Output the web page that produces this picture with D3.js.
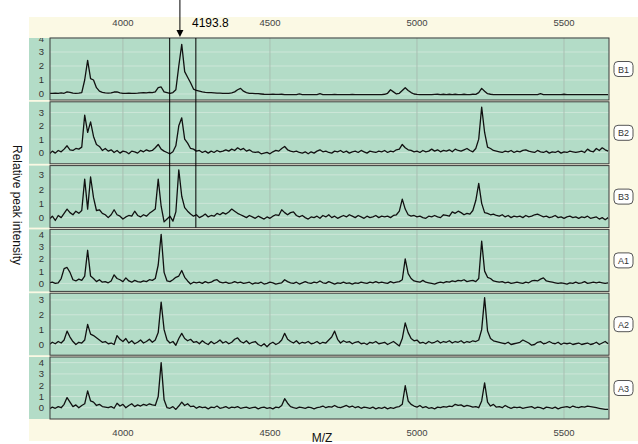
<!DOCTYPE html>
<html>
<head>
<meta charset="utf-8">
<style>
  body { margin: 0; background: #fff; }
  svg text { font-family: "Liberation Sans", Arial, sans-serif; }
</style>
</head>
<body>
<svg width="638" height="444"></svg>
<script src="https://cdn.jsdelivr.net/npm/d3@7/dist/d3.min.js"></script>
<script>
// m/z sampling grid: 3750 .. 5650, every 10
var mz = d3.range(3750, 5651, 10);

var xTicks = [4000, 4500, 5000, 5500];
var panelNames = ["B1", "B2", "B3", "A1", "A2", "A3"];
var marker = 4193.8;
var markerBand = [4159, 4248];

// relative peak intensity, one value per grid point
var b1 = [
  0.05,0.05,0.06,0.05,0.08,0.05,0.15,0.12,0.06,0.05,
  0.06,0.1,1.0,2.4,1.1,1.0,0.45,0.2,0.12,0.08,
  0.06,0.08,0.14,0.15,0.08,0.05,0.05,0.06,0.05,0.05,
  0.06,0.08,0.1,0.08,0.12,0.1,0.15,0.45,0.5,0.15,
  0.1,0.05,0.1,0.3,2.0,3.55,1.6,1.2,0.8,0.35,
  0.25,0.2,0.15,0.12,0.1,0.1,0.08,0.06,0.06,0.05,
  0.05,0.05,0.08,0.15,0.3,0.4,0.2,0.1,0.05,0.04,
  0.03,0.02,0.0,-0.02,-0.03,-0.03,-0.02,-0.03,-0.03,-0.02,
  -0.05,-0.05,-0.04,-0.05,-0.05,0.0,-0.05,-0.05,-0.05,-0.05,
  -0.05,-0.05,0.02,-0.05,-0.05,-0.05,-0.05,-0.03,-0.05,-0.05,
  -0.05,-0.05,-0.05,-0.03,-0.05,-0.04,-0.05,-0.05,-0.05,-0.05,
  -0.05,-0.05,-0.04,-0.05,-0.02,0.05,0.3,0.15,0.0,0.05,
  0.25,0.45,0.25,0.1,0.0,-0.03,-0.05,-0.05,-0.05,-0.05,
  -0.05,-0.03,-0.02,-0.05,-0.02,-0.04,-0.02,-0.05,-0.02,-0.04,
  -0.04,-0.02,-0.05,-0.04,-0.02,-0.03,0.1,0.4,0.2,0.02,
  -0.02,-0.04,-0.05,-0.05,-0.05,-0.05,-0.05,-0.05,-0.05,-0.05,
  -0.05,-0.05,-0.05,-0.05,-0.05,-0.05,-0.05,0.02,-0.05,-0.05,
  -0.05,-0.05,-0.05,-0.05,-0.05,-0.02,-0.05,-0.05,-0.05,-0.05,
  -0.05,-0.05,-0.05,-0.05,-0.05,-0.05,-0.05,-0.05,-0.05,-0.05,
  -0.05
];
var b2 = [
  -0.1,0.1,-0.05,0.15,0.05,0.25,0.5,0.2,0.15,0.3,
  0.25,0.4,2.8,1.5,2.3,1.2,0.6,0.45,0.15,0.3,
  0.1,0.2,0.0,0.15,-0.05,0.1,0.05,-0.1,0.1,0.05,
  -0.05,0.15,0.05,0.2,0.1,0.15,0.35,0.6,0.25,0.1,
  0.0,-0.1,0.05,0.5,2.0,2.6,1.0,0.7,0.3,0.25,
  0.1,0.15,0.0,0.1,-0.05,0.1,0.0,0.15,0.05,0.1,
  0.2,0.1,0.25,0.15,0.35,0.2,0.3,0.1,0.2,0.05,
  0.0,0.05,-0.1,-0.05,0.0,-0.1,0.05,0.15,0.1,0.3,
  0.45,0.2,0.1,0.05,0.1,0.0,-0.05,0.05,-0.1,0.05,
  -0.05,0.1,0.2,0.05,0.1,0.0,-0.05,0.1,0.05,0.15,
  0.0,0.1,-0.05,0.05,0.1,0.0,0.15,0.05,-0.05,0.1,
  0.05,0.0,0.1,0.05,0.15,0.0,0.1,0.05,0.2,0.25,
  0.6,0.35,0.2,0.15,0.05,0.1,0.0,0.15,0.05,0.1,
  0.25,0.1,0.2,0.05,0.15,0.1,0.2,0.05,0.25,0.15,
  0.1,0.2,0.3,0.15,0.05,0.3,1.0,3.4,1.5,0.4,
  0.3,0.15,0.1,0.05,0.0,0.1,0.05,0.15,0.0,0.1,
  0.05,0.15,0.2,0.1,0.05,0.0,0.15,0.05,0.0,0.1,
  -0.05,0.05,0.0,0.1,-0.05,0.05,0.0,0.1,0.05,0.0,
  0.05,0.1,0.0,0.25,0.1,0.05,0.3,0.15,0.35,0.2,
  0.1
];
var b3 = [
  -0.1,0.1,-0.2,0.15,0.0,0.3,0.6,0.35,0.2,0.45,
  0.3,0.5,2.7,0.6,2.85,1.4,0.5,0.55,0.3,0.2,
  0.0,0.2,0.55,0.2,0.1,-0.1,0.05,0.15,0.1,0.45,
  0.15,0.05,0.2,0.1,0.3,0.45,0.6,2.7,0.8,-0.3,
  -0.1,0.1,-0.25,0.4,3.35,1.5,0.7,0.45,0.25,0.1,
  0.2,0.0,0.1,0.25,0.05,0.15,0.1,0.3,0.2,0.35,
  0.25,0.4,0.6,0.45,0.3,0.2,0.1,0.0,0.15,0.05,
  -0.05,0.1,0.0,-0.1,0.05,-0.05,0.1,0.2,0.15,0.55,
  0.35,0.2,0.35,0.4,0.15,0.05,0.15,0.0,-0.1,0.05,
  0.0,0.1,-0.05,0.15,0.05,0.2,0.0,0.1,-0.05,0.05,
  0.15,0.05,0.2,0.1,0.0,0.15,0.05,-0.05,0.1,0.0,
  0.05,0.15,0.0,0.1,0.05,0.1,0.0,0.15,0.2,0.45,
  1.3,0.6,0.2,0.1,0.15,0.05,0.1,0.0,-0.05,0.1,
  0.05,0.15,0.05,0.0,0.2,0.15,0.1,0.4,0.3,0.45,
  0.35,0.2,0.3,0.25,0.5,1.2,2.4,1.0,0.35,0.3,
  0.2,0.25,0.15,0.1,0.2,0.05,0.15,0.0,0.1,0.05,
  0.1,0.0,0.15,0.05,0.1,0.2,0.25,0.15,0.05,0.1,
  0.0,0.05,0.15,0.0,0.05,-0.05,0.05,0.1,0.0,0.05,
  -0.05,0.05,0.0,0.1,-0.05,0.0,0.05,-0.1,0.0,-0.15,
  0.0
];
var a1 = [
  0.05,0.1,0.0,0.05,0.4,1.2,1.3,0.9,0.3,0.2,
  0.35,0.25,0.6,2.7,0.6,0.4,0.15,0.3,0.1,0.15,
  0.05,0.2,0.7,0.4,0.3,0.15,0.45,0.2,0.1,0.25,
  0.15,0.1,0.2,0.15,0.3,0.25,0.4,1.5,4.0,0.9,
  0.2,0.15,0.3,0.5,0.6,1.05,0.5,0.2,-0.05,0.1,
  0.05,0.1,0.0,0.15,0.05,0.1,0.25,0.3,0.1,0.05,
  0.1,0.0,0.05,0.15,0.05,0.1,0.0,0.05,0.1,-0.05,
  0.05,0.0,0.1,-0.05,0.0,0.1,0.05,-0.05,0.0,0.05,
  0.3,0.15,0.05,0.0,0.1,-0.05,0.05,0.15,0.05,0.0,
  0.1,0.05,0.2,0.05,0.0,0.15,0.05,-0.05,0.05,0.0,
  0.1,0.0,0.05,-0.05,0.05,0.0,0.1,0.05,0.0,0.1,
  0.05,0.15,0.05,0.1,0.05,0.0,0.15,0.05,0.1,0.15,
  0.3,2.0,0.8,0.4,0.2,0.15,0.1,0.25,0.1,0.05,
  0.0,-0.05,0.05,0.1,0.05,0.15,0.1,0.2,0.15,0.25,
  0.2,0.3,0.15,0.2,0.25,0.15,0.4,3.45,1.0,0.5,
  0.4,0.2,0.15,0.1,0.15,0.05,0.1,0.0,0.05,0.1,
  0.05,0.0,0.1,0.05,0.2,0.25,0.2,0.35,0.45,0.2,
  0.15,0.1,0.05,0.0,0.05,0.0,-0.05,0.05,0.0,0.1,
  0.0,0.05,0.15,0.0,0.05,0.1,0.05,0.1,0.05,0.0,
  0.05
];
var a2 = [
  0.0,0.15,0.05,0.2,0.1,0.3,0.9,0.5,0.2,0.0,
  0.15,0.1,0.3,1.35,0.7,0.6,0.45,0.3,0.15,0.2,
  0.05,0.1,0.0,0.6,0.35,0.2,0.4,0.1,0.25,0.05,
  0.15,0.3,0.1,0.2,0.35,0.15,0.3,0.8,2.85,1.0,
  0.3,0.1,0.2,-0.05,0.4,0.75,0.4,0.25,0.35,0.15,
  0.2,0.05,0.25,0.1,0.0,0.2,0.05,0.15,0.3,0.1,
  0.2,0.05,0.15,0.35,0.45,0.2,0.1,0.25,0.05,0.15,
  0.2,0.0,-0.1,0.05,-0.15,0.05,0.15,0.0,0.1,0.3,
  0.75,0.35,0.2,0.1,0.25,0.05,0.15,0.1,0.2,0.05,
  0.1,0.2,0.05,0.15,0.1,0.3,0.5,0.9,0.35,0.1,
  0.25,0.15,0.2,0.05,0.15,0.2,0.05,0.1,0.0,0.15,
  0.1,0.2,0.05,0.1,0.15,0.0,0.1,0.2,0.05,-0.1,
  0.4,1.45,0.8,0.4,0.25,0.3,0.1,0.15,0.05,0.2,
  0.1,0.15,0.25,0.1,0.2,0.15,0.25,0.1,0.2,0.15,
  0.25,0.1,0.2,0.15,0.25,0.2,0.3,1.0,3.15,0.9,
  0.4,0.25,0.2,0.15,0.1,0.05,0.15,0.0,0.05,0.1,
  0.15,0.3,0.2,0.1,-0.05,0.0,0.15,0.2,0.05,0.1,
  0.2,0.1,0.05,0.15,0.0,0.1,0.05,0.1,0.0,0.05,
  0.1,0.0,0.05,0.1,0.0,0.05,0.15,0.0,0.1,0.2,
  0.05
];
var a3 = [
  -0.1,0.05,-0.05,0.1,0.0,0.3,0.9,0.5,0.1,0.25,
  0.0,0.2,0.35,1.5,0.6,0.5,0.2,0.3,0.1,0.05,
  0.0,0.1,-0.05,0.4,0.15,0.3,0.0,0.2,0.35,0.1,
  0.25,0.15,0.3,0.2,0.35,0.25,0.2,1.0,4.0,0.7,
  0.0,-0.05,0.1,-0.15,0.15,0.5,0.2,0.35,0.1,0.15,
  -0.05,0.1,0.0,0.05,-0.1,0.05,0.0,0.15,-0.05,0.0,
  0.1,-0.05,0.05,0.0,0.1,-0.05,0.0,0.05,-0.05,0.0,
  0.05,-0.1,0.0,0.05,-0.05,0.0,-0.1,0.05,0.0,0.2,
  0.8,0.4,0.1,0.0,-0.05,0.05,0.0,-0.05,0.05,0.0,
  -0.1,0.0,0.05,0.15,0.0,0.1,0.05,0.2,0.05,0.0,
  0.1,0.2,0.05,0.15,0.0,0.1,-0.05,0.05,0.0,-0.05,
  0.05,-0.1,0.0,-0.05,0.05,-0.1,0.0,-0.05,0.05,0.1,
  0.3,1.95,0.6,0.3,0.15,0.05,0.2,0.0,0.1,-0.05,
  0.0,-0.1,0.05,0.0,0.1,0.05,0.15,0.1,0.3,0.2,
  0.25,0.1,0.2,0.15,0.05,0.1,0.0,0.6,2.2,0.5,
  0.15,0.3,0.05,0.1,0.0,0.2,0.05,-0.05,0.05,0.0,
  0.05,-0.05,0.0,0.05,0.1,-0.05,0.05,0.0,-0.1,0.05,
  0.0,-0.05,0.05,-0.1,0.0,0.05,0.1,0.0,0.15,0.05,
  0.0,0.1,0.05,0.15,0.1,0.05,0.0,-0.05,-0.1,-0.15,
  -0.15
];
var series = [b1, b2, b3, a1, a2, a3];

// visible intensity range and tick values of each panel
var yRanges = [[-0.43, 4.0], [-0.85, 3.8], [-0.7, 3.65], [-0.65, 4.4], [-0.72, 3.45], [-1.0, 4.5]];
var yTicks = [[0,1,2,3,4], [0,1,2,3], [0,1,2,3], [0,1,2,3,4], [0,1,2,3], [0,1,2,3,4]];

var svg = d3.select("svg");
var left = 50, right = 609, strip = 29;
var top0 = 38, pitch = 63.8, ph = 62;

var x = d3.scaleLinear().domain([3752, 5653]).range([left, right]);

// cream backdrop
svg.append("rect").attr("x", strip).attr("y", 17).attr("width", 638 - strip).attr("height", 424)
  .attr("fill", "#fbf9e4");

// top and bottom tick labels
[26, 436].forEach(function (ty) {
  svg.append("g").selectAll("text").data(xTicks).enter().append("text")
    .attr("x", function (d) { return x(d); })
    .attr("y", ty)
    .attr("text-anchor", "middle")
    .attr("font-size", 9.5)
    .attr("fill", "#444")
    .text(function (d) { return d; });
});

panelNames.forEach(function (name, i) {
  var py = top0 + i * pitch;
  var y = d3.scaleLinear().domain(yRanges[i]).range([py + ph, py]);
  var g = svg.append("g");

  g.append("rect").attr("x", strip).attr("y", py).attr("width", right - strip).attr("height", ph)
    .attr("fill", "#b3dcc7");

  g.append("clipPath").attr("id", "clip" + i)
    .append("rect").attr("x", left).attr("y", py).attr("width", right - left).attr("height", ph);
  g.append("clipPath").attr("id", "lclip" + i)
    .append("rect").attr("x", strip).attr("y", py).attr("width", left - strip).attr("height", ph);

  // grid
  g.selectAll(".hg").data(yTicks[i]).enter().append("line")
    .attr("x1", left).attr("x2", right)
    .attr("y1", function (d) { return y(d); }).attr("y2", function (d) { return y(d); })
    .attr("stroke", "#cde6d8").attr("stroke-width", 1);
  g.selectAll(".vg").data(xTicks).enter().append("line")
    .attr("x1", function (d) { return x(d); }).attr("x2", function (d) { return x(d); })
    .attr("y1", py).attr("y2", py + ph)
    .attr("stroke", "#a9bfb2").attr("stroke-width", 1);

  // y tick labels
  g.append("g").attr("clip-path", "url(#lclip" + i + ")")
    .selectAll("text").data(yTicks[i]).enter().append("text")
    .attr("x", 44).attr("y", function (d) { return y(d) + 3.5; })
    .attr("text-anchor", "end").attr("font-size", 9.5).attr("fill", "#333")
    .text(function (d) { return d; });

  var line = d3.line()
    .x(function (d, j) { return x(mz[j]); })
    .y(function (d) { return y(d); });

  g.append("path").datum(series[i])
    .attr("clip-path", "url(#clip" + i + ")")
    .attr("d", line)
    .attr("fill", "none").attr("stroke", "#111").attr("stroke-width", 1.3)
    .attr("stroke-linejoin", "round");

  g.append("rect").attr("x", left).attr("y", py).attr("width", right - left).attr("height", ph)
    .attr("fill", "none").attr("stroke", "#3a3a3a").attr("stroke-width", 1);

  // sample tag
  var cy = py + ph / 2;
  g.append("rect").attr("x", 614).attr("y", cy - 7.5).attr("width", 19).attr("height", 15)
    .attr("rx", 4).attr("fill", "#fff").attr("stroke", "#555").attr("stroke-width", 1);
  g.append("text").attr("x", 623.5).attr("y", cy + 3.5).attr("text-anchor", "middle")
    .attr("font-size", 9).attr("fill", "#333").text(name);
});

// marker band through the B panels
svg.selectAll(".band").data(markerBand).enter().append("line")
  .attr("x1", function (d) { return x(d); }).attr("x2", function (d) { return x(d); })
  .attr("y1", top0).attr("y2", top0 + 2 * pitch + ph)
  .attr("stroke", "#000").attr("stroke-width", 1);

// arrow
var ax = x(marker);
svg.append("line").attr("x1", ax).attr("x2", ax).attr("y1", 0).attr("y2", 32)
  .attr("stroke", "#000").attr("stroke-width", 1);
svg.append("path")
  .attr("d", "M" + (ax - 3.5) + ",30L" + (ax + 3.5) + ",30L" + ax + ",37Z")
  .attr("fill", "#000");
svg.append("text").attr("x", 192).attr("y", 27).attr("font-size", 12).attr("fill", "#000")
  .text(marker.toFixed(1));

// axis titles
svg.append("text").attr("transform", "translate(13,205) rotate(90)")
  .attr("text-anchor", "middle").attr("font-size", 12).attr("fill", "#111")
  .text("Relative peak intensity");
svg.append("text").attr("x", 322).attr("y", 442).attr("text-anchor", "middle")
  .attr("font-size", 12).attr("fill", "#111").text("M/Z");
</script>
</body>
</html>
